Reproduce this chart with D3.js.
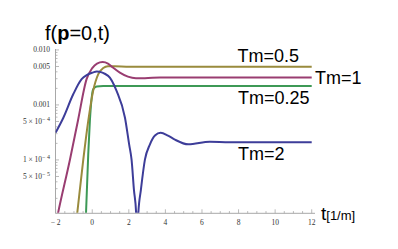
<!DOCTYPE html>
<html><head><meta charset="utf-8">
<script src="https://cdn.jsdelivr.net/npm/d3@7"></script>
<style>body{margin:0;background:#fff}svg{display:block}</style>
</head><body>
<svg id="c" width="398" height="249"></svg>
<script>
// ---- data ----
const tBlue  = [-2,-1.58,-1.04,-0.58,0.05,0.24,0.87,1.33,1.79,2.02,2.15,2.28,2.40,2.46,2.52,2.66,2.88,3.15,3.43,3.74,4.14,4.52,5.25,6.43,7.5,12];
const vBlue  = [3.15e-4,5.85e-4,1.56e-3,2.94e-3,3.91e-3,4.07e-3,3.38e-3,1.80e-3,5.85e-4,1.90e-4,1.01e-4,2.85e-5,1.08e-5,1e-7,1.08e-5,2.85e-5,1.01e-4,1.90e-4,2.77e-4,3.11e-4,2.77e-4,2.34e-4,1.92e-4,2.15e-4,2.09e-4,2.09e-4];
const tMag   = [-2,-1.87,-1.22,-0.78,-0.31,0.0,0.26,0.57,0.86,1.13,1.51,1.95,2.39,2.88,3.70,12];
const vMag   = [6.6e-6,1.08e-5,1.01e-4,5.22e-4,2.94e-3,4.68e-3,5.66e-3,6.03e-3,5.66e-3,4.78e-3,3.87e-3,3.27e-3,3.07e-3,3.07e-3,3.14e-3,3.16e-3];
const tOlive = [-1.0,-0.82,-0.49,-0.22,0.05,0.33,0.60,0.86,1.24,2.06,12];
const vOlive = [3.2e-6,1.08e-5,1.01e-4,5.07e-4,1.80e-3,3.63e-3,4.68e-3,5.05e-3,5.03e-3,4.94e-3,4.94e-3];
const tGreen = [-0.40,-0.34,-0.22,-0.13,-0.03,0.05,0.24,0.6,12];
const vGreen = [3.8e-6,1.08e-5,1.25e-4,5.07e-4,1.36e-3,1.93e-3,2.16e-3,2.21e-3,2.22e-3];
const seriesNames = ["Tm=2","Tm=1","Tm=0.5","Tm=0.25"];
const xTickValues = [-2,0,2,4,6,8,10,12];
const xTickLabels = ["\u2212 2","0","2","4","6","8","10","12"];
const yTickValues = [0.01,0.005,0.001,5e-4,1e-4,5e-5];
const yTickMant   = ["0.010","0.005","0.001","5","1","5"];
const yTickExp    = [null,null,null,"\u2212 4","\u2212 4","\u2212 5"];

const colors = ["#3d3d99","#993d71","#998b3d","#3d9956"];
const svg = d3.select("#c");
const x = d3.scaleLinear().domain([-2.02,12.18]).range([55.3,315]);
const y = d3.scaleLog().domain([1.07e-5,0.0104]).range([213.3,49]);
const X0 = 55.5, Y0 = 213.3;

svg.append("defs").append("clipPath").attr("id","clip")
  .append("rect").attr("x",X0).attr("y",0).attr("width",330).attr("height",Y0-0.5);

// axes
const axCol = "#a8a8a8";
svg.append("line").attr("x1",X0).attr("x2",X0).attr("y1",49).attr("y2",Y0).attr("stroke",axCol).attr("stroke-width",1);
svg.append("line").attr("x1",X0).attr("x2",315).attr("y1",Y0).attr("y2",Y0).attr("stroke",axCol).attr("stroke-width",1);

// x ticks
const xMinor = d3.range(-2,12.01,0.5);
xMinor.forEach(v=>{
  const major = xTickValues.includes(v);
  svg.append("line").attr("x1",x(v)).attr("x2",x(v)).attr("y1",Y0).attr("y2",Y0-(major?4:2.2))
    .attr("stroke",axCol).attr("stroke-width",0.8);
});
xTickValues.forEach((v,i)=>{
  svg.append("text").attr("x",x(v)).attr("y",224.5).attr("text-anchor","middle")
    .attr("font-family","Liberation Serif, serif").attr("font-size",7.5).attr("fill","#333")
    .text(xTickLabels[i]);
});
// y ticks
const yMinor = [];
[1e-5,1e-4,1e-3].forEach(d=>{ for(let k=1;k<=9;k++) yMinor.push(k*d); });
yMinor.push(0.01);
yMinor.filter(v=>v>=1.07e-5 && v<=0.0104).forEach(v=>{
  const major = yTickValues.some(t=>Math.abs(t-v)/v<1e-6);
  svg.append("line").attr("x1",X0).attr("x2",X0+(major?3.5:2)).attr("y1",y(v)).attr("y2",y(v))
    .attr("stroke",axCol).attr("stroke-width",0.8);
});
yTickValues.forEach((v,i)=>{
  const t = svg.append("text").attr("x",50).attr("y",y(v)+2.5).attr("text-anchor","end")
    .attr("font-family","Liberation Serif, serif").attr("font-size",7.5).attr("fill","#333");
  if(yTickExp[i]){
    t.append("tspan").text(yTickMant[i]+" \u00d7 10");
    t.append("tspan").attr("dy",-3).attr("font-size",6).text(yTickExp[i]);
  } else t.text(yTickMant[i]);
});

// curves
const sets = [[tBlue,vBlue],[tMag,vMag],[tOlive,vOlive],[tGreen,vGreen]];
const line = d3.line().x(d=>x(d[0])).y(d=>y(d[1])).curve(d3.curveMonotoneX);
const g = svg.append("g").attr("clip-path","url(#clip)");
// draw order: green, olive, magenta, blue? keep blue first underneath
[3,2,1,0].forEach(i=>{
  const pts = sets[i][0].map((t,j)=>[t,sets[i][1][j]]);
  g.append("path").attr("d",line(pts)).attr("fill","none").attr("stroke",colors[i])
    .attr("stroke-width",2).attr("stroke-linejoin","round");
});

// titles and labels
const sans = "Liberation Sans, Arial, sans-serif";
const title = svg.append("text").attr("x",45).attr("y",40).attr("font-family",sans).attr("font-size",20).attr("fill","#000");
title.append("tspan").text("f(");
title.append("tspan").attr("font-weight","bold").text("p");
title.append("tspan").text("=0,t)");

const xl = svg.append("text").attr("x",321).attr("y",220).attr("font-family",sans).attr("fill","#000");
xl.append("tspan").attr("font-size",19).text("t");
xl.append("tspan").attr("font-size",13).text("[1/m]");

const labPos = [[238,160],[315,84],[237.5,62],[238,104]];
seriesNames.forEach((n,i)=>{
  svg.append("text").attr("x",labPos[i][0]).attr("y",labPos[i][1]).attr("font-family",sans)
    .attr("font-size",18).attr("fill","#000").text(n);
});
</script>
</body></html>
